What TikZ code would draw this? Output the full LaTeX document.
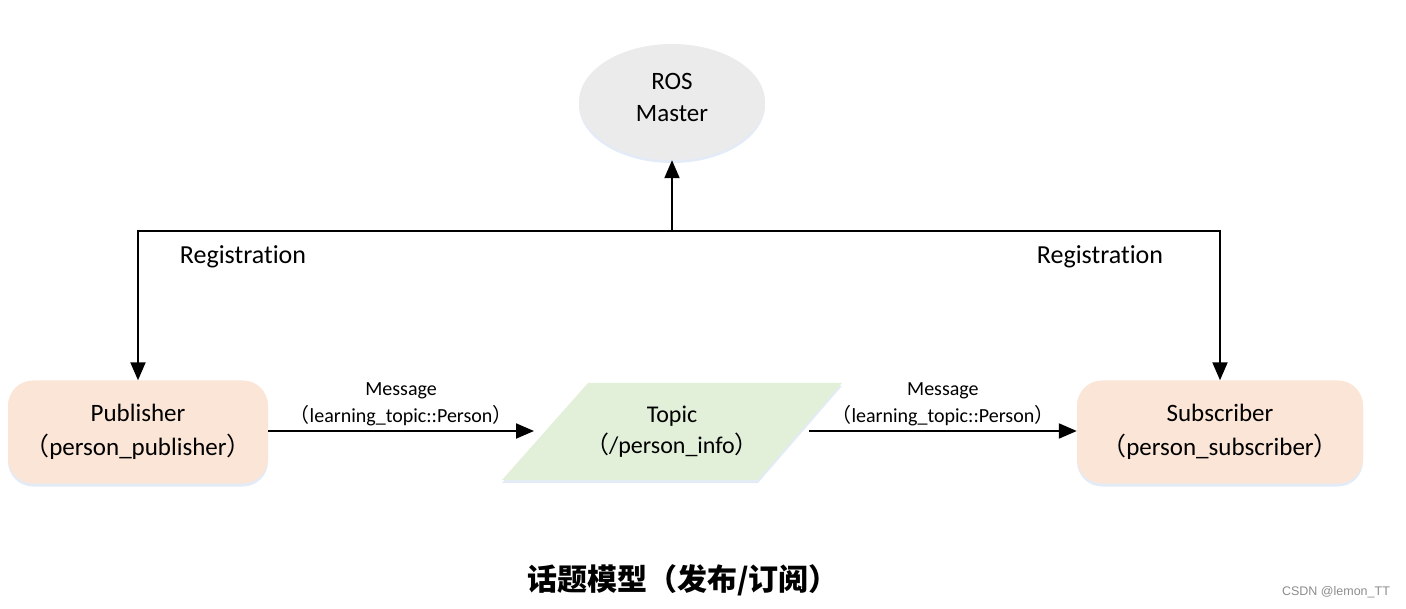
\documentclass[tikz,border=0pt]{standalone}
\usepackage{fontspec}
\setmainfont{Carlito}[Ligatures=NoCommon]
\newfontfamily\cjk{Noto Sans CJK SC}
\newfontfamily\wmfont{Liberation Sans}
\usetikzlibrary{shapes.geometric,arrows.meta,shadows}
\newcommand{\fwl}{{\cjk （}}
\newcommand{\fwr}{{\cjk ）}}
\definecolor{mastergray}{RGB}{235,235,235}
\definecolor{nodepeach}{RGB}{251,229,214}
\definecolor{topicgreen}{RGB}{226,239,217}
\definecolor{glow}{RGB}{200,215,240}
\begin{document}
\begin{tikzpicture}[x=1pt,y=-1pt,
  arr/.style={line width=2pt,-{Triangle[length=18pt,width=15pt]}},
  softshadow/.style={drop shadow={shadow xshift=0pt,shadow yshift=-3pt,fill=glow,opacity=0.5}},
  mainfont/.style={font=\fontsize{25}{34}\selectfont,align=center},
  msgfont/.style={font=\fontsize{20}{27}\selectfont,align=center},
  procbox/.style={rounded corners=25pt,fill=nodepeach,softshadow,minimum height=103pt,inner sep=0pt,mainfont}
]
\useasboundingbox (0,0) rectangle (1406,609);

\node[ellipse,fill=mastergray,softshadow,minimum width=186pt,minimum height=116pt,inner sep=0pt] (master) at (672,102) {};
\node[font=\fontsize{25}{32}\selectfont,align=center] (mastertext) at (672,97) {ROS\\Master};

\node[procbox,minimum width=260pt] (pub) at (138,432) {Publisher\\\fwl person\_publisher\fwr};
\node[procbox,minimum width=286pt] (sub) at (1220,432) {Subscriber\\\fwl person\_subscriber\fwr};

% topic parallelogram
\coordinate (tbl) at (502,480);
\coordinate (ttl) at (588,383);
\coordinate (ttr) at (842,383);
\coordinate (tbr) at (758,480);
\fill[topicgreen,softshadow] (tbl) -- (ttl) -- (ttr) -- (tbr) -- cycle;
\node[font=\fontsize{24}{31}\selectfont,align=center] (topic) at (672,432) {Topic\\\fwl/person\_info\fwr};
\coordinate (tin) at (534,431);
\coordinate (tout) at (809,431);

\coordinate (junc) at (672,231);
\draw[arr] (junc) -- (master.south);
\draw[arr] (junc) -| (pub.north);
\draw[arr] (junc) -| (sub.north);

\node[font=\fontsize{26}{30}\selectfont] (reg1) at (243,257) {Registration};
\node[font=\fontsize{26}{30}\selectfont] (reg2) at (1100,257) {Registration};

\draw[arr] (pub.east |- tin) -- node[above=1pt,msgfont] (msg1) {Message\\\fwl learning\_topic::Person\fwr} (tin);
\draw[arr] (tout) -- node[above=1pt,msgfont] (msg2) {Message\\\fwl learning\_topic::Person\fwr} (sub.west |- tout);

\node[font=\cjk\bfseries\fontsize{30}{34}\selectfont] (caption) at (683,580) {话题模型（发布/订阅）};
\node[font=\wmfont\fontsize{12.5}{15}\selectfont,text=black!45] (wm) at (1336,592) {CSDN @lemon\_TT};
\end{tikzpicture}
\end{document}
